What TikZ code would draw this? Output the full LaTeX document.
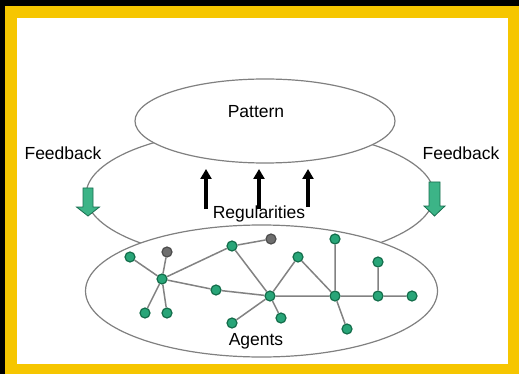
\documentclass[tikz,border=0pt]{standalone}
\usepackage{fontspec}
\setmainfont{Liberation Sans}
\usetikzlibrary{shapes.geometric,arrows.meta}
\definecolor{frameyellow}{RGB}{246,198,0}
\definecolor{linegray}{RGB}{128,128,128}
\definecolor{edgegray}{RGB}{130,130,130}
\definecolor{agentfill}{RGB}{40,165,120}
\definecolor{agentdraw}{RGB}{20,110,75}
\definecolor{darkag}{RGB}{110,110,110}
\definecolor{fbfill}{RGB}{60,180,135}
\definecolor{fbdraw}{RGB}{25,110,80}
\tikzset{
  ring/.style={ellipse, draw=linegray, line width=1.2pt, inner sep=0pt, outer sep=0pt},
  lbl/.style={font=\fontsize{17.5}{19}\selectfont, inner sep=0pt},
  agent/.style={circle, draw=agentdraw, fill=agentfill, line width=1.2pt, minimum size=10pt, inner sep=0pt},
  gagent/.style={agent, draw=darkag!70!black, fill=darkag},
  link/.style={draw=edgegray, line width=1.5pt},
  uparrow/.style={line width=3.2pt, -{Triangle[width=11pt,length=10pt]}},
  fbarrow/.style={draw=fbdraw, fill=fbfill, line width=0.8pt, line join=miter}
}
\begin{document}
\begin{tikzpicture}[x=1pt,y=-1pt]
\useasboundingbox (0,0) rectangle (519,374);
\fill[frameyellow] (-10,-10) rectangle (530,385);
\fill[black] (-10,-10) rectangle (530,6);
\fill[black] (-10,-10) rectangle (5,385);
\fill[white] (17,18) rectangle (508,364);

% regularities ring (partly hidden)
\node[ring, minimum width=348pt, minimum height=132pt] (reg) at (260,195) {};
% pattern and agents rings
\node[ring, fill=white, minimum width=260pt, minimum height=84pt] (pat) at (265,121) {};
\node[ring, fill=white, minimum width=352pt, minimum height=132pt] (agt) at (261.5,291) {};

% labels
\node[lbl] (tpat) at (256,112) {Pattern};
\node[lbl] (fbl) at (63,153) {Feedback};
\node[lbl] (fbr) at (461,153) {Feedback};
\node[lbl] (treg) at (259,214) {Regularities};
\node[lbl] (tagt) at (256,341) {Agents};

% upward arrows
\coordinate (u1s) at (206,209); \coordinate (u1e) at (206,169);
\coordinate (u2s) at (259,209); \coordinate (u2e) at (259,169);
\coordinate (u3s) at (308,207); \coordinate (u3e) at (308,169);
\draw[uparrow] (u1s) -- (u1e);
\draw[uparrow] (u2s) -- (u2e);
\draw[uparrow] (u3s) -- (u3e);

% feedback arrows
\coordinate (fa) at (88,188);
\draw[fbarrow] (fa) ++(-5,0) -- ++(10,0) -- ++(0,19) -- ++(6.5,0) -- ++(-11.5,9) -- ++(-11.5,-9) -- ++(6.5,0) -- cycle;
\coordinate (fb) at (434.5,182);
\draw[fbarrow] (fb) ++(-5.5,0) -- ++(11,0) -- ++(0,24) -- ++(5,0) -- ++(-10.5,10) -- ++(-10.5,-10) -- ++(5,0) -- cycle;

% agents
\node[agent] (a1) at (130,257) {};
\node[gagent] (g1) at (167,252) {};
\node[agent] (h1) at (162,279) {};
\node[agent] (b1) at (145,313) {};
\node[agent] (b2) at (167,313) {};
\node[agent] (m1) at (216,290) {};
\node[agent] (t1) at (232,246) {};
\node[gagent] (g2) at (271,239) {};
\node[agent] (h2) at (270,296) {};
\node[agent] (c1) at (232,323) {};
\node[agent] (c2) at (281,318) {};
\node[agent] (p1) at (298,257) {};
\node[agent] (h3) at (335,296) {};
\node[agent] (v1) at (335,239) {};
\node[agent] (d1) at (347,329) {};
\node[agent] (h4) at (378,296) {};
\node[agent] (v2) at (378,262) {};
\node[agent] (e1) at (412,296) {};

\path[link] (a1) -- (h1) (g1) -- (h1) (h1) -- (b1) (h1) -- (b2) (h1) -- (t1)
  (h1) -- (m1) (m1) -- (h2) (t1) -- (g2) (t1) -- (h2) (h2) -- (c2) (h2) -- (c1)
  (h2) -- (p1) (p1) -- (h3) (h3) -- (d1) (h3) -- (v1) (h2) -- (h3) (h3) -- (h4)
  (h4) -- (e1) (h4) -- (v2);
\end{tikzpicture}
\end{document}
